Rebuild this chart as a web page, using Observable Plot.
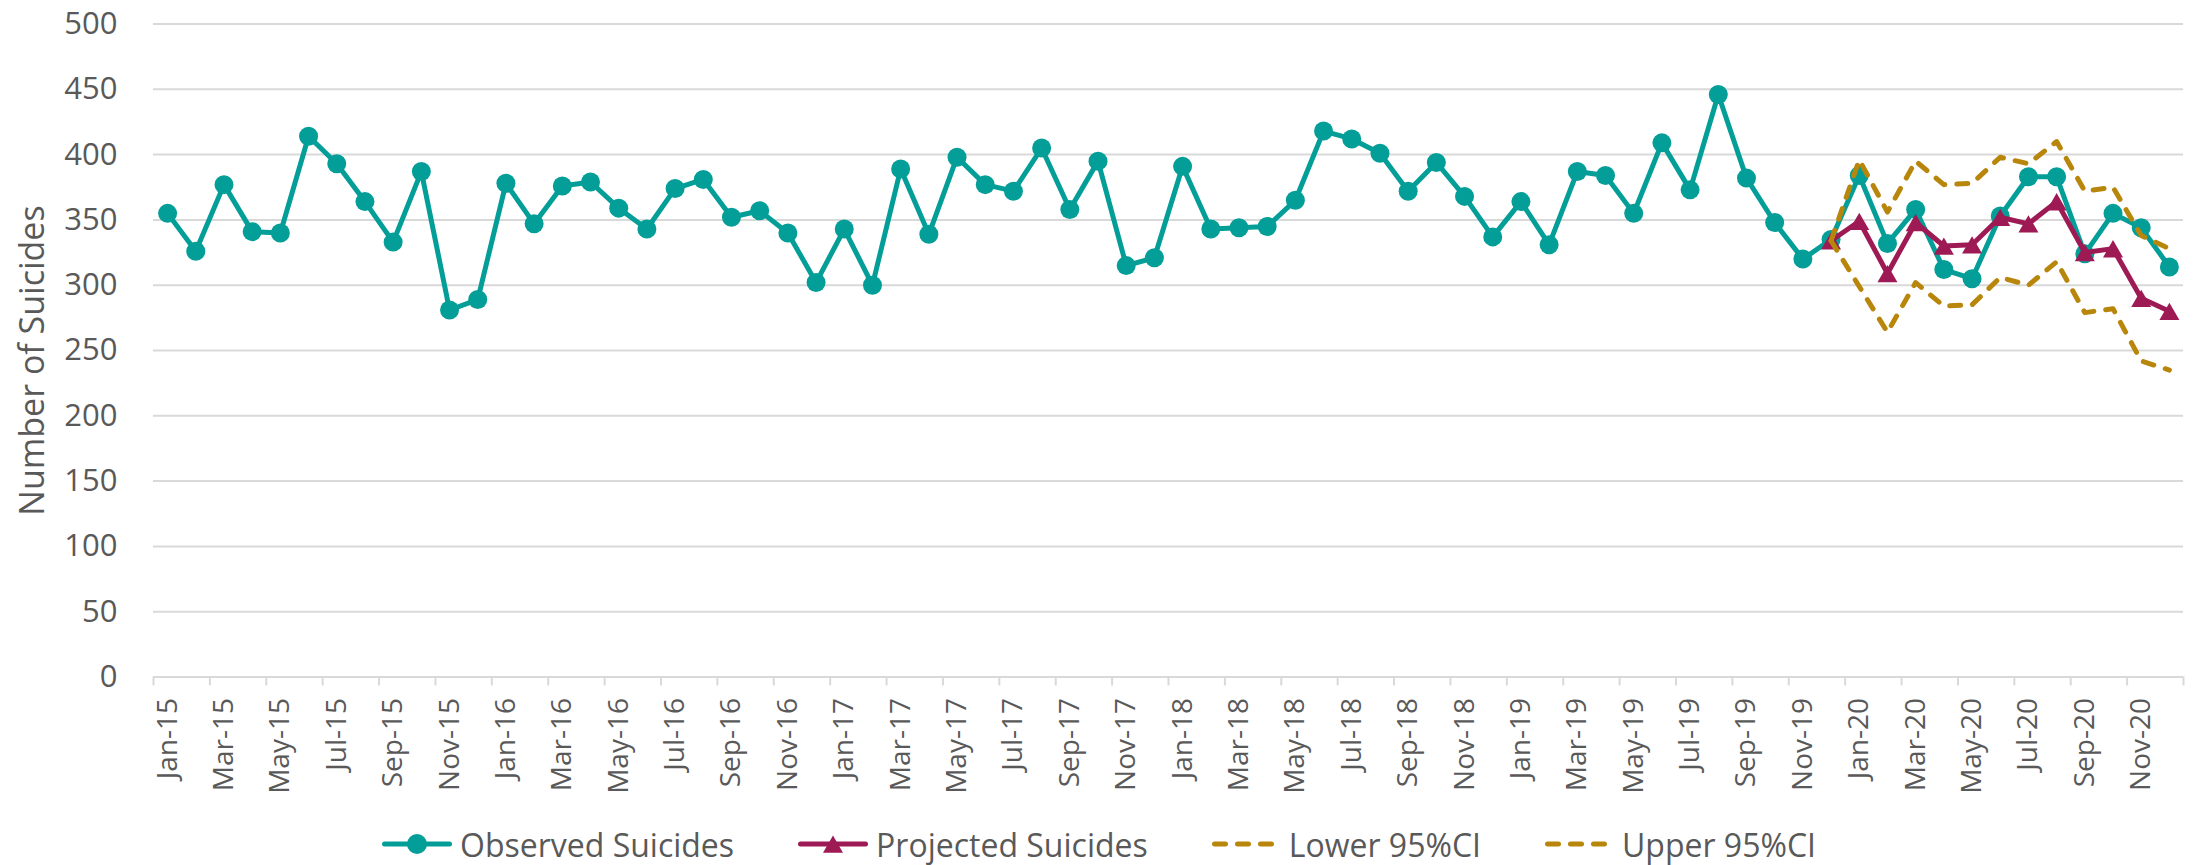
<!DOCTYPE html>
<html>
<head>
<meta charset="utf-8">
<script src="https://cdn.jsdelivr.net/npm/d3@7"></script>
<script src="https://cdn.jsdelivr.net/npm/@observablehq/plot@0.6"></script>
<style>
html, body { margin: 0; padding: 0; background: #ffffff; }
body { width: 2198px; height: 865px; overflow: hidden; font-family: "Open Sans", sans-serif; }
#chart svg { display: block; }
#legend { box-sizing: border-box; height: 65px; padding-top: 23px; display: flex; justify-content: center; align-items: center; gap: 64px; color: #595959; font-size: 32px; font-family: "Open Sans", sans-serif; }
.item { display: flex; align-items: center; white-space: nowrap; }
.item svg { display: block; margin-right: 8px; }
.item.dash svg { margin-right: 12px; }
</style>
</head>
<body>
<div id="chart"></div>
<div id="legend"></div>
<script>
// ---- data ----
const monthNames = ["Jan", "Feb", "Mar", "Apr", "May", "Jun", "Jul", "Aug", "Sep", "Oct", "Nov", "Dec"];
const years = ["15", "16", "17", "18", "19", "20"];
const months = years.flatMap(y => monthNames.map(m => `${m}-${y}`));

const observed = [
  355, 326, 377, 341, 340, 414, 393, 364, 333, 387, 281, 289,
  378, 347, 376, 379, 359, 343, 374, 381, 352, 357, 340, 302,
  343, 300, 389, 339, 398, 377, 372, 405, 358, 395, 315, 321,
  391, 343, 344, 345, 365, 418, 412, 401, 372, 394, 368, 337,
  364, 331, 387, 384, 355, 409, 373, 446, 382, 348, 320, 335,
  384, 332, 358, 312, 305, 353, 383, 383, 324, 355, 344, 314
];

const forecastStart = "Dec-19";
const projected = [334, 349, 309, 348, 330, 331, 352, 347, 364, 325, 328, 290, 280];
const lower95 = [334, 299, 264, 302, 284, 285, 306, 300, 318, 279, 282, 242, 235];
const upper95 = [334, 396, 356, 395, 377, 378, 398, 393, 410, 372, 375, 338, 328];

const yTicks = [0, 50, 100, 150, 200, 250, 300, 350, 400, 450, 500];
const seriesNames = ["Observed Suicides", "Projected Suicides", "Lower 95%CI", "Upper 95%CI"];
const yTitle = "Number of Suicides";

// ---- styles ----
const teal = "#049e98";
const crimson = "#9e1a54";
const gold = "#b8860b";
const textColor = "#595959";
const gridColor = "#d9d9d9";

// ---- derived rows (month index -> category centre on a linear axis) ----
const obsRows = observed.map((v, i) => ({x: i + 0.5, v}));
const f0 = months.indexOf(forecastStart);
const fRows = projected.map((v, i) => ({x: f0 + i + 0.5, proj: v, lo: lower95[i], up: upper95[i]}));
const labelTicks = months.map((m, i) => i).filter(i => i % 2 === 0).map(i => i + 0.5);
const boundaryTicks = d3.range(0, months.length + 1, 2);

const triR = Math.sqrt((20 * 20 * Math.sqrt(3) / 4) / Math.PI);

const chart = Plot.plot({
  width: 2198,
  height: 800,
  marginLeft: 153,
  marginRight: 15,
  marginTop: 23.5,
  marginBottom: 123.5,
  x: {domain: [0, months.length]},
  y: {domain: [0, 500]},
  style: {fontFamily: "Open Sans, sans-serif", color: textColor, background: "#ffffff", overflow: "visible"},
  marks: [
    Plot.gridY({ticks: yTicks, stroke: gridColor, strokeOpacity: 1, strokeWidth: 2}),
    Plot.axisY({ticks: yTicks, tickSize: 0, tickPadding: 36, fontSize: 31, fill: textColor, label: null}),
    Plot.axisX({ticks: boundaryTicks, tickSize: 9, tickFormat: () => "", stroke: gridColor, strokeWidth: 2, strokeOpacity: 1, label: null}),
    Plot.axisX({ticks: labelTicks, tickSize: 0, tickPadding: 21, tickRotate: -90, tickFormat: d => months[Math.floor(d)], fontSize: 28, fill: textColor, label: null}),
    Plot.text([yTitle], {frameAnchor: "left", textAnchor: "middle", rotate: -90, dx: -120, dy: 10, fontSize: 34, fill: textColor}),
    Plot.line(obsRows, {x: "x", y: "v", stroke: teal, strokeWidth: 5, strokeLinejoin: "round"}),
    Plot.dot(obsRows, {x: "x", y: "v", r: 9.5, fill: teal, stroke: "none"}),
    Plot.line(fRows, {x: "x", y: "proj", stroke: crimson, strokeWidth: 5, strokeLinejoin: "round"}),
    Plot.dot(fRows, {x: "x", y: "proj", symbol: "triangle", r: triR, dy: 3, fill: crimson, stroke: "none"}),
    Plot.line(fRows, {x: "x", y: "lo", stroke: gold, strokeWidth: 5, strokeDasharray: "11,12", strokeLinecap: "round", strokeLinejoin: "round"}),
    Plot.line(fRows, {x: "x", y: "up", stroke: gold, strokeWidth: 5, strokeDasharray: "11,12", strokeLinecap: "round", strokeLinejoin: "round"})
  ]
});
document.getElementById("chart").appendChild(chart);

// ---- legend ----
const legendSpecs = [
  {name: seriesNames[0], color: teal, marker: "circle", dash: null},
  {name: seriesNames[1], color: crimson, marker: "triangle", dash: null},
  {name: seriesNames[2], color: gold, marker: null, dash: "11,12"},
  {name: seriesNames[3], color: gold, marker: null, dash: "11,12"}
];
const legend = d3.select("#legend");
for (const s of legendSpecs) {
  const item = legend.append("div").attr("class", "item" + (s.dash ? " dash" : ""));
  const w = s.dash ? 65 : 70;
  const svg = item.append("svg").attr("width", w).attr("height", 24);
  svg.append("line")
    .attr("x1", 2.5).attr("x2", w - 2.5).attr("y1", 12).attr("y2", 12)
    .attr("stroke", s.color).attr("stroke-width", 5).attr("stroke-linecap", "round")
    .attr("stroke-dasharray", s.dash);
  if (s.marker === "circle") {
    svg.append("circle").attr("cx", w / 2).attr("cy", 12).attr("r", 10).attr("fill", s.color);
  } else if (s.marker === "triangle") {
    svg.append("path").attr("transform", `translate(${w / 2},${12 + 3})`)
      .attr("d", d3.symbol(d3.symbolTriangle, Math.PI * triR * triR)()).attr("fill", s.color);
  }
  item.append("span").text(s.name);
}
</script>
</body>
</html>
